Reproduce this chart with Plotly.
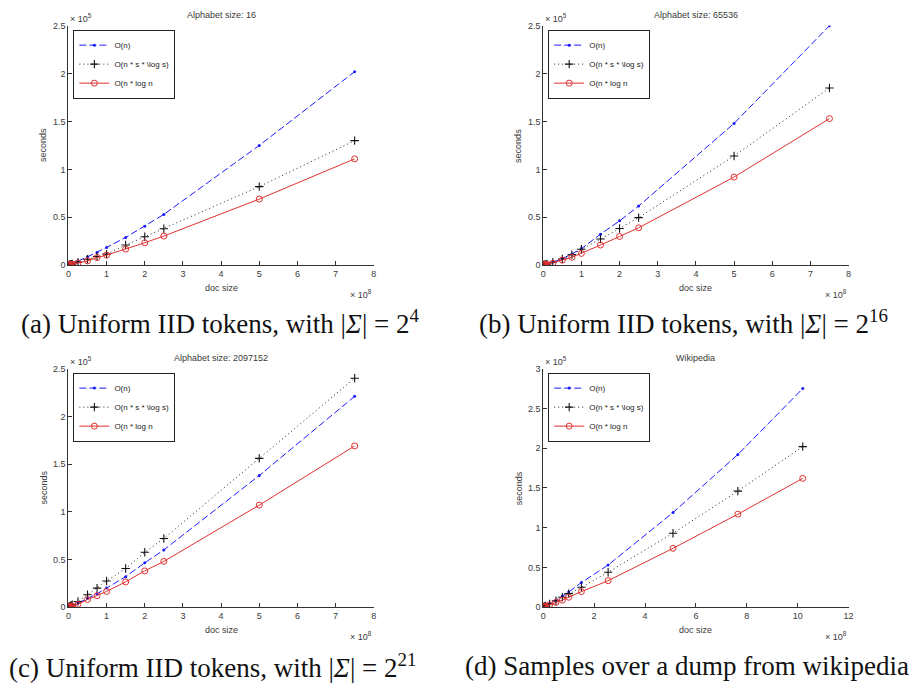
import plotly.graph_objects as go

# Timings are in units of 1e5 seconds, document sizes in units of 1e8 tokens.

# --- (a) alphabet size 16 ---
doc_a = [0.002, 0.005, 0.01, 0.02, 0.03, 0.05, 0.075, 0.1, 0.25, 0.5, 0.75, 1.0, 1.5, 2.0, 2.5, 5.0, 7.5]
lin_a = [0.0004, 0.001, 0.002, 0.004, 0.005, 0.009, 0.013, 0.018, 0.043, 0.087, 0.133, 0.185, 0.29, 0.406, 0.53, 1.25, 2.02]
slog_a = [0.0003, 0.001, 0.002, 0.003, 0.004, 0.007, 0.01, 0.013, 0.032, 0.062, 0.09, 0.115, 0.21, 0.297, 0.381, 0.82, 1.30]
nlog_a = [0.0002, 0.0005, 0.001, 0.002, 0.003, 0.005, 0.007, 0.01, 0.022, 0.045, 0.08, 0.105, 0.168, 0.234, 0.304, 0.69, 1.11]

# --- (b) alphabet size 65536 ---
doc_b = [0.002, 0.005, 0.01, 0.02, 0.03, 0.05, 0.075, 0.1, 0.25, 0.5, 0.75, 1.0, 1.5, 2.0, 2.5, 5.0, 7.5]
lin_b = [0.0003, 0.001, 0.002, 0.003, 0.004, 0.006, 0.009, 0.012, 0.03, 0.07, 0.117, 0.173, 0.323, 0.463, 0.617, 1.48, 2.50]
slog_b = [0.0003, 0.001, 0.002, 0.003, 0.004, 0.006, 0.009, 0.012, 0.03, 0.065, 0.11, 0.167, 0.273, 0.383, 0.497, 1.14, 1.85]
nlog_b = [0.0002, 0.0005, 0.001, 0.002, 0.003, 0.004, 0.006, 0.008, 0.02, 0.053, 0.083, 0.123, 0.21, 0.30, 0.39, 0.92, 1.53]

# --- (c) alphabet size 2097152 ---
doc_c = [0.002, 0.005, 0.01, 0.02, 0.03, 0.05, 0.075, 0.1, 0.25, 0.5, 0.75, 1.0, 1.5, 2.0, 2.5, 5.0, 7.5]
lin_c = [0.0004, 0.001, 0.002, 0.004, 0.005, 0.009, 0.013, 0.018, 0.045, 0.09, 0.14, 0.20, 0.32, 0.465, 0.60, 1.38, 2.21]
slog_c = [0.0005, 0.001, 0.003, 0.005, 0.008, 0.012, 0.018, 0.025, 0.06, 0.13, 0.20, 0.275, 0.405, 0.575, 0.72, 1.56, 2.40]
nlog_c = [0.0002, 0.0005, 0.001, 0.002, 0.003, 0.005, 0.008, 0.012, 0.03, 0.08, 0.12, 0.165, 0.265, 0.38, 0.48, 1.07, 1.69]

# --- (d) wikipedia dump ---
doc_d = [0.002, 0.005, 0.01, 0.02, 0.03, 0.05, 0.075, 0.1, 0.25, 0.5, 0.75, 1.0, 1.5, 2.55, 5.1, 7.65, 10.2]
lin_d = [0.0003, 0.001, 0.002, 0.003, 0.005, 0.008, 0.012, 0.016, 0.042, 0.088, 0.138, 0.19, 0.31, 0.53, 1.19, 1.92, 2.75]
slog_d = [0.0003, 0.001, 0.002, 0.003, 0.004, 0.007, 0.011, 0.015, 0.04, 0.08, 0.125, 0.17, 0.25, 0.44, 0.93, 1.46, 2.02]
nlog_d = [0.0002, 0.0005, 0.001, 0.002, 0.003, 0.005, 0.007, 0.01, 0.03, 0.06, 0.0875, 0.125, 0.196, 0.333, 0.74, 1.17, 1.62]

series_names = ["O(n)", "O(n * s * \\log s)", "O(n * log n"]
panel_titles = ["Alphabet size: 16", "Alphabet size: 65536", "Alphabet size: 2097152", "Wikipedia"]
captions = [
    "(a) Uniform IID tokens, with |<i>Σ</i>| = 2<sup>4</sup>",
    "(b) Uniform IID tokens, with |<i>Σ</i>| = 2<sup>16</sup>",
    "(c) Uniform IID tokens, with |<i>Σ</i>| = 2<sup>21</sup>",
    "(d) Samples over a dump from wikipedia",
]
x_ranges = [[0, 8], [0, 8], [0, 8], [0, 12]]
x_dticks = [1, 1, 1, 2]
y_ranges = [[0, 2.5], [0, 2.5], [0, 2.5], [0, 3]]

panels = [
    (doc_a, lin_a, slog_a, nlog_a),
    (doc_b, lin_b, slog_b, nlog_b),
    (doc_c, lin_c, slog_c, nlog_c),
    (doc_d, lin_d, slog_d, nlog_d),
]

W, H = 915, 692
# plot boxes in pixels: (left, right, top, bottom)
boxes = [(66, 374, 21, 264), (545, 853, 21, 264), (66, 374, 369, 611), (545, 853, 369, 611)]
caption_pos = [(219, 322), (687, 322), (211, 671), (690, 671)]

tick_font = dict(family="Liberation Sans, Arial, sans-serif", size=9, color="#3a3a3a")
label_font = dict(family="Liberation Sans, Arial, sans-serif", size=9, color="#3a3a3a")

styles = [
    dict(line=dict(color="#1a1aff", width=1, dash="7px,3px"),
         marker=dict(symbol="circle", size=3, color="#1a1aff")),
    dict(line=dict(color="#222222", width=1, dash="1px,3px"),
         marker=dict(symbol="cross-thin-open", size=6, color="#111111",
                     line=dict(width=1.1, color="#111111"))),
    dict(line=dict(color="#e03030", width=1),
         marker=dict(symbol="circle-open", size=6, color="#e03030",
                     line=dict(width=1, color="#e03030"))),
]

fig = go.Figure()
annotations = []
layout = {}

for i, (docs, lin, slog, nlog) in enumerate(panels):
    k = "" if i == 0 else str(i + 1)
    left, right, top, bottom = boxes[i]
    xdom = [left / W, right / W]
    ydom = [1 - bottom / H, 1 - top / H]
    legend_name = "legend" if i == 0 else f"legend{i + 1}"

    for j, ys in enumerate([lin, slog, nlog]):
        fig.add_trace(go.Scatter(
            x=docs, y=ys, mode="lines+markers", name=series_names[j],
            xaxis=f"x{k}", yaxis=f"y{k}", legend=legend_name,
            **styles[j]))

    layout[f"xaxis{k}"] = dict(
        domain=xdom, range=x_ranges[i], anchor=f"y{k}", dtick=x_dticks[i], tick0=0,
        showline=True, linecolor="#333333", linewidth=1, ticks="inside", ticklen=4,
        tickcolor="#333333", showgrid=False, zeroline=False, tickfont=tick_font)
    layout[f"yaxis{k}"] = dict(
        domain=ydom, range=y_ranges[i], anchor=f"x{k}", dtick=0.5, tick0=0,
        showline=True, linecolor="#333333", linewidth=1, ticks="inside", ticklen=4,
        tickcolor="#333333", showgrid=False, zeroline=False, tickfont=tick_font)

    layout[legend_name] = dict(
        x=(left + 5) / W, y=1 - (top + 4) / H, xanchor="left", yanchor="top",
        bgcolor="white", bordercolor="#222222", borderwidth=1,
        font=dict(family="Liberation Sans, Arial, sans-serif", size=8, color="#222222"),
        tracegroupgap=0, itemwidth=30)

    cx = (left + right) / 2
    annotations += [
        dict(text=panel_titles[i], x=cx / W, y=1 - (top - 11) / H, xref="paper", yref="paper",
             showarrow=False, xanchor="center", yanchor="middle", font=label_font),
        dict(text="seconds", x=(left - 25) / W, y=1 - ((top + bottom) / 2) / H,
             xref="paper", yref="paper", showarrow=False, textangle=-90,
             xanchor="center", yanchor="middle", font=label_font),
        dict(text="doc size", x=cx / W, y=1 - (bottom + 23) / H, xref="paper", yref="paper",
             showarrow=False, xanchor="center", yanchor="middle", font=label_font),
        dict(text="× 10<sup>5</sup>", x=left / W, y=1 - (top - 8) / H, xref="paper",
             yref="paper", showarrow=False, xanchor="left", yanchor="middle", font=label_font),
        dict(text="× 10<sup>8</sup>", x=right / W, y=1 - (bottom + 29) / H, xref="paper",
             yref="paper", showarrow=False, xanchor="right", yanchor="middle", font=label_font),
        dict(text=captions[i], x=caption_pos[i][0] / W, y=1 - caption_pos[i][1] / H,
             xref="paper", yref="paper", showarrow=False, xanchor="center", yanchor="middle",
             font=dict(family="Liberation Serif, Times New Roman, serif", size=27, color="#111111")),
    ]

fig.update_layout(
    width=W, height=H, margin=dict(l=0, r=0, t=0, b=0),
    paper_bgcolor="white", plot_bgcolor="white",
    annotations=annotations, showlegend=True, **layout)

fig.write_html("out.html")
